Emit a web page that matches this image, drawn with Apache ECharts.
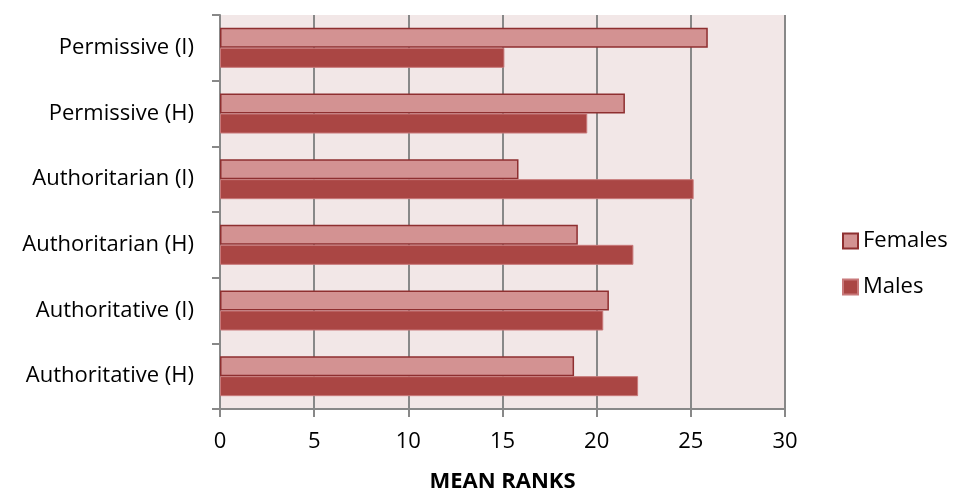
<!DOCTYPE html>
<html>
<head>
<meta charset="utf-8">
<script src="https://cdn.jsdelivr.net/npm/echarts@6/dist/echarts.min.js"></script>
<style>
  html, body { margin: 0; padding: 0; background: #fff; }
  #chart { width: 954px; height: 498px; }
</style>
</head>
<body>
<div id="chart"></div>
<script>
// categories listed bottom to top
const categories = ['Authoritative (H)', 'Authoritative (I)', 'Authoritarian (H)', 'Authoritarian (I)', 'Permissive (H)', 'Permissive (I)'];
const females = [18.8, 20.65, 19.0, 15.85, 21.5, 25.9];
const males = [22.2, 20.35, 21.95, 25.15, 19.5, 15.1];
const xTicks = [0, 5, 10, 15, 20, 25, 30];

const chart = echarts.init(document.getElementById('chart'));
const font = '"Open Sans", sans-serif';

chart.setOption({
  animation: false,
  textStyle: { fontFamily: font },
  grid: {
    left: 220, right: 169, top: 15, bottom: 83,
    show: true, backgroundColor: '#F2E7E7', borderWidth: 0
  },
  legend: {
    data: ['Females', 'Males'],
    orient: 'vertical',
    left: 837, top: 225,
    itemWidth: 15, itemHeight: 15, itemGap: 24,
    icon: 'rect',
    textStyle: { fontSize: 22, color: '#000', fontFamily: font }
  },
  xAxis: {
    type: 'value',
    min: xTicks[0], max: xTicks[xTicks.length - 1], interval: 5,
    name: 'MEAN RANKS', nameLocation: 'middle', nameGap: 62,
    nameTextStyle: { fontSize: 22, fontWeight: 'bold', color: '#000' },
    axisLine: { show: true, lineStyle: { color: '#888', width: 2 } },
    axisTick: { show: true, length: 8, lineStyle: { color: '#888', width: 2 } },
    axisLabel: { fontSize: 22, color: '#000', margin: 22 },
    splitLine: { show: true, lineStyle: { color: '#888', width: 2 } }
  },
  yAxis: {
    type: 'category',
    data: categories,
    axisLine: { show: true, lineStyle: { color: '#888', width: 2 } },
    axisTick: { show: true, length: 8, lineStyle: { color: '#888', width: 2 } },
    axisLabel: { fontSize: 22, color: '#000', margin: 26 }
  },
  series: [
    {
      name: 'Females', type: 'bar', data: females,
      barWidth: 20, barGap: '0%', barCategoryGap: '40%',
      itemStyle: { color: '#D39292', borderColor: '#8E2F30', borderWidth: 1.5 }
    },
    {
      name: 'Males', type: 'bar', data: males,
      barWidth: 20,
      itemStyle: { color: '#AA4644', borderColor: '#C8797A', borderWidth: 1 }
    }
  ]
});
</script>
</body>
</html>
